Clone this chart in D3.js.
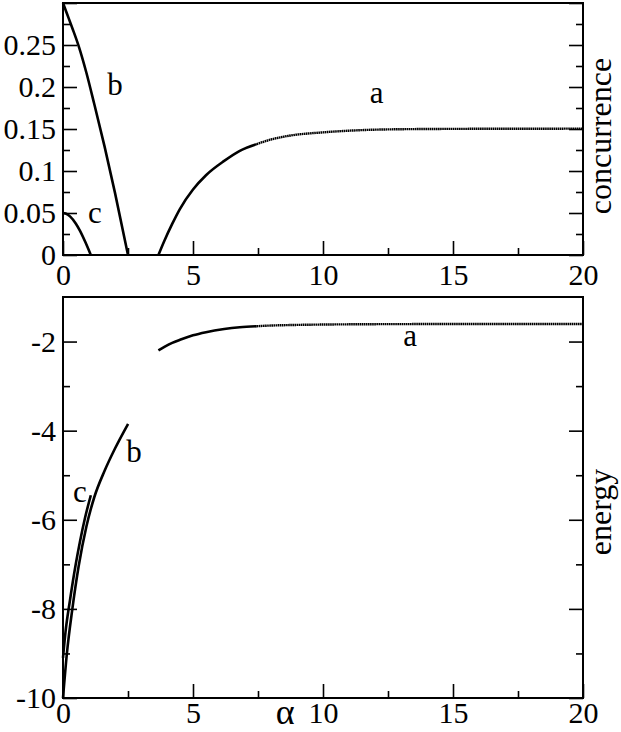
<!DOCTYPE html>
<html>
<head>
<meta charset="utf-8">
<script src="https://cdn.jsdelivr.net/npm/d3@7"></script>
<style>
  html, body { margin: 0; padding: 0; background: #fff; }
  svg { display: block; }
  text { font-family: "Liberation Serif", "Times New Roman", serif; fill: #000; }
</style>
</head>
<body>
<svg id="chart" width="621" height="732"></svg>
<script>
// ---------- data ----------
const alphaA  = [3.67, 3.9, 4.2, 4.5, 5.0, 5.5, 6.2, 6.8, 7.45, 8.0, 8.7, 10, 11, 12, 14, 17, 20];
const concA   = [0, 0.017, 0.037, 0.055, 0.078, 0.095, 0.112, 0.124, 0.132, 0.1375, 0.142, 0.146, 0.148, 0.1492, 0.1500, 0.1503, 0.1504];
const energyA = [-2.2, -2.12, -2.03, -1.96, -1.86, -1.79, -1.72, -1.68, -1.655, -1.64, -1.63, -1.618, -1.613, -1.61, -1.607, -1.605, -1.605];

const alphaB  = [0, 0.15, 0.36, 0.6, 0.9, 1.2, 1.6, 2.0, 2.5];
const concB   = [0.3, 0.2875, 0.27, 0.249, 0.217, 0.18, 0.129, 0.074, 0];
const energyB = [-10, -9.0, -8.0, -7.05, -6.15, -5.5, -4.9, -4.4, -3.85];

const alphaC  = [0, 0.1, 0.27, 0.49, 0.65, 0.85, 1.07];
const concC   = [0.05, 0.0493, 0.046, 0.0375, 0.029, 0.016, 0];
const energyC = [-9.1, -8.5, -7.8, -7.0, -6.5, -5.95, -5.45];

const xMajor = [0, 5, 10, 15, 20];
const xMinor = [2.5, 7.5, 12.5, 17.5];
const cMajor = [0, 0.05, 0.1, 0.15, 0.2, 0.25, 0.3];
const cLabels = ["0", "0.05", "0.1", "0.15", "0.2", "0.25", ""];
const cMinor = [0.025, 0.075, 0.125, 0.175, 0.225, 0.275];
const eMajor = [-10, -8, -6, -4, -2];
const eLabels = ["-10", "-8", "-6", "-4", "-2"];
const eMinor = [-9, -7, -5, -3];

// ---------- layout ----------
const svg = d3.select("#chart");
const FONT = 30;
const SERIF = '"Liberation Serif", "Times New Roman", serif';
const x = d3.scaleLinear().domain([0, 20]).range([63, 583]);
const yC = d3.scaleLinear().domain([0, 0.3]).range([255, 3]);
const yE = d3.scaleLinear().domain([-10, -1]).range([698, 297]);

function panel(yScale, major, labels, minor, yLabel, labelY, xPad) {
  const [y0, y1] = yScale.range();
  const g = svg.append("g");
  const style = a => { a.select(".domain").remove(); a.selectAll("line").attr("stroke-width", 1.6); };
  // left axis (major with labels)
  g.append("g").attr("transform", `translate(${x.range()[0]},0)`)
    .call(d3.axisLeft(yScale).tickValues(major).tickSize(-14).tickSizeOuter(0).tickPadding(7)
      .tickFormat((d, i) => labels[i]))
    .call(style)
    .call(a => a.selectAll("text").attr("font-size", FONT).attr("dy", "0.33em").style("font-family", SERIF));
  g.append("g").attr("transform", `translate(${x.range()[0]},0)`)
    .call(d3.axisLeft(yScale).tickValues(minor).tickSize(-7).tickSizeOuter(0).tickFormat(""))
    .call(style);
  // right axis
  g.append("g").attr("transform", `translate(${x.range()[1]},0)`)
    .call(d3.axisRight(yScale).tickValues(major).tickSize(-14).tickSizeOuter(0).tickFormat(""))
    .call(style);
  g.append("g").attr("transform", `translate(${x.range()[1]},0)`)
    .call(d3.axisRight(yScale).tickValues(minor).tickSize(-7).tickSizeOuter(0).tickFormat(""))
    .call(style);
  // bottom axis
  g.append("g").attr("transform", `translate(0,${y0})`)
    .call(d3.axisBottom(x).tickValues(xMajor).tickSize(-14).tickSizeOuter(0).tickPadding(xPad).tickFormat(d3.format("d")))
    .call(style)
    .call(a => a.selectAll("text").attr("font-size", FONT).style("font-family", SERIF));
  g.append("g").attr("transform", `translate(0,${y0})`)
    .call(d3.axisBottom(x).tickValues(xMinor).tickSize(-7).tickSizeOuter(0).tickFormat(""))
    .call(style);
  // frame
  g.append("rect").attr("x", x.range()[0]).attr("y", y1)
    .attr("width", x.range()[1] - x.range()[0]).attr("height", y0 - y1)
    .attr("fill", "none").attr("stroke", "#000").attr("stroke-width", 2);
  // right-side rotated label
  g.append("text").attr("transform", `translate(611,${labelY}) rotate(-90)`)
    .attr("text-anchor", "middle").attr("font-size", 32).text(yLabel);
  return g;
}

panel(yC, cMajor, cLabels, cMinor, "concurrence", 136, 9);
panel(yE, eMajor, eLabels, eMinor, "energy", 512, 4);

// ---------- curves ----------
function drawCurve(xs, ys, yScale, split) {
  const pts = xs.map((a, i) => [a, ys[i]]);
  const line = d3.line().x(d => x(d[0])).y(d => yScale(d[1])).curve(d3.curveMonotoneX);
  if (split === undefined) {
    svg.append("path").attr("d", line(pts)).attr("fill", "none").attr("stroke", "#000").attr("stroke-width", 2.6);
  } else {
    const solid = pts.filter(d => d[0] <= split);
    const dotted = pts.filter(d => d[0] >= split);
    svg.append("path").attr("d", line(solid)).attr("fill", "none").attr("stroke", "#000").attr("stroke-width", 2.6);
    svg.append("path").attr("d", line(dotted)).attr("fill", "none").attr("stroke", "#000")
      .attr("stroke-width", 2.4).attr("stroke-dasharray", "1.6,0.5");
  }
}
drawCurve(alphaA, concA, yC, 7.45);
drawCurve(alphaB, concB, yC);
drawCurve(alphaC, concC, yC);
drawCurve(alphaA, energyA, yE, 7.45);
drawCurve(alphaB, energyB, yE);
drawCurve(alphaC, energyC, yE);

// ---------- curve labels ----------
const curveLabels = [
  { t: "a", a: 12.06, v: 0.181, s: yC },
  { t: "b", a: 2.0,   v: 0.190, s: yC },
  { t: "c", a: 1.23,  v: 0.038, s: yC },
  { t: "a", a: 13.35, v: -2.1,  s: yE },
  { t: "b", a: 2.73,  v: -4.70, s: yE },
  { t: "c", a: 0.65,  v: -5.6,  s: yE }
];
curveLabels.forEach(l => {
  svg.append("text").attr("x", x(l.a)).attr("y", l.s(l.v))
    .attr("text-anchor", "middle").attr("font-size", 31).text(l.t);
});

// alpha axis title
svg.append("text").attr("x", x(8.55)).attr("y", 724).attr("text-anchor", "middle")
  .attr("font-size", 36).text("α");
</script>
</body>
</html>
